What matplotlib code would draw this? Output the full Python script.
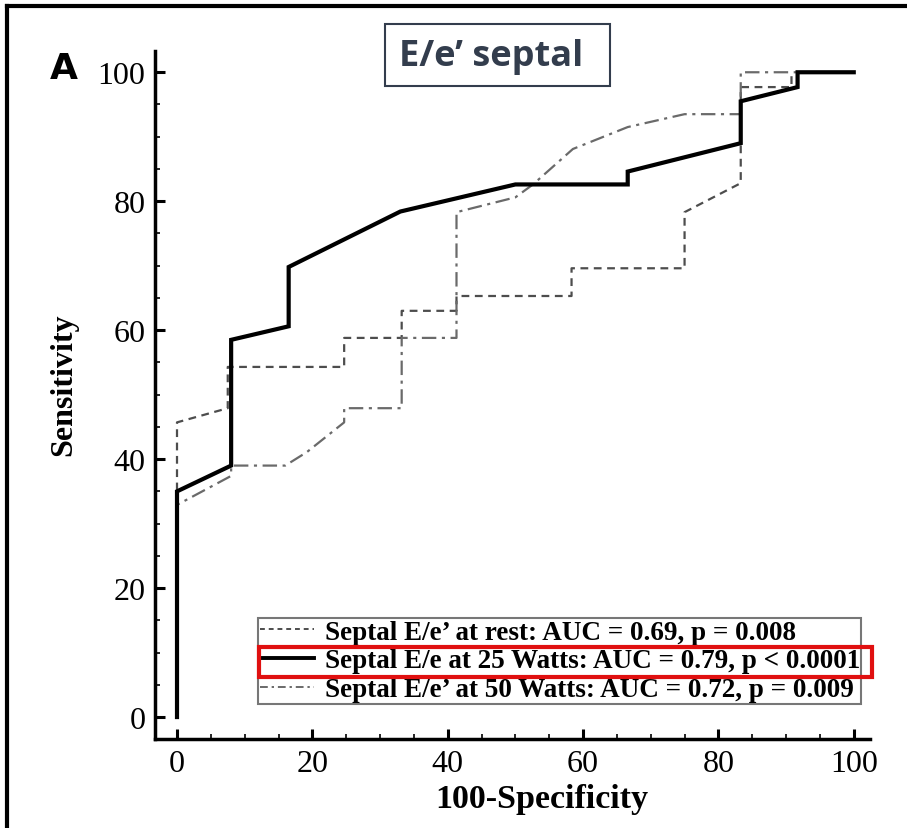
import matplotlib
matplotlib.use("Agg")
import matplotlib.pyplot as plt
from matplotlib.lines import Line2D
from matplotlib.patches import Rectangle
from matplotlib.ticker import MultipleLocator

# ---- data ----
rest_x = [0, 0, 7.5, 7.5, 24.7, 24.7, 33.2, 33.2, 41.3, 41.3, 58.3, 58.3, 75, 75, 83.3, 83.3, 90.8, 90.8]
rest_y = [0, 45.7, 47.9, 54.3, 54.3, 58.8, 58.8, 63, 63, 65.3, 65.3, 69.6, 69.6, 78.3, 82.8, 97.7, 97.7, 100]

w25_x = [0, 0, 8, 8, 16.5, 16.5, 33, 50, 66.6, 66.6, 83.3, 83.3, 91.7, 91.7, 100]
w25_y = [0, 35, 39, 58.5, 60.6, 69.8, 78.4, 82.6, 82.6, 84.6, 89, 95.5, 97.7, 100, 100]

w50_x = [0, 0, 8, 8, 16, 19.2, 24.7, 24.7, 33.2, 33.2, 41.3, 41.3, 50, 52.6, 58.5, 66.6, 75, 82.7, 83.3, 83.3, 91.7]
w50_y = [0, 32.9, 37.4, 39, 39, 41.1, 45.7, 47.9, 47.9, 58.8, 58.8, 78.3, 80.6, 82.6, 88.1, 91.5, 93.5, 93.5, 93.5, 100, 100]

labels = ["Septal E/e\u2019 at rest: AUC = 0.69, p = 0.008",
          "Septal E/e at 25 Watts: AUC = 0.79, p < 0.0001",
          "Septal E/e\u2019 at 50 Watts: AUC = 0.72, p = 0.009"]
x_ticks = [0, 20, 40, 60, 80, 100]
y_ticks = [0, 20, 40, 60, 80, 100]

serif = ["Liberation Serif", "DejaVu Serif"]

fig = plt.figure(figsize=(9.07, 8.29), dpi=100)
ax = fig.add_axes([0.1709, 0.1074, 0.7883, 0.8299])

ls_dash = (0, (3.5, 2.5))
ls_dashdot = (0, (6.5, 2.5, 1.4, 2.5))

ax.plot(rest_x, rest_y, color="#4d4d4d", lw=1.6, linestyle=ls_dash)
ax.plot(w50_x, w50_y, color="#6a6a6a", lw=1.6, linestyle=ls_dashdot)
ax.plot(w25_x, w25_y, color="black", lw=3.0, solid_joinstyle="miter")

ax.set_xlim(-3.25, 102.4)
ax.set_ylim(-3.4, 103.3)
ax.set_xticks(x_ticks)
ax.set_yticks(y_ticks)
ax.xaxis.set_minor_locator(MultipleLocator(5))
ax.yaxis.set_minor_locator(MultipleLocator(5))
for s in ["top", "right"]:
    ax.spines[s].set_visible(False)
for s in ["left", "bottom"]:
    ax.spines[s].set_linewidth(2.5)
ax.tick_params(which="major", direction="in", length=7, width=2.2, pad=7)
ax.tick_params(which="minor", direction="in", length=3.5, width=1.2)
for lab in ax.get_xticklabels() + ax.get_yticklabels():
    lab.set_fontfamily(serif)
    lab.set_fontsize(23)

ax.set_xlabel("100-Specificity", fontfamily=serif, fontweight="bold", fontsize=24.5, labelpad=4)
ax.xaxis.label.set_x(0.541)
ax.set_ylabel("Sensitivity", fontfamily=serif, fontweight="bold", fontsize=23)
ax.yaxis.set_label_coords(-0.1077, 0.516)

handles = [Line2D([], [], color="#4d4d4d", lw=1.4, linestyle=(0, (2.5, 2))),
           Line2D([], [], color="black", lw=2.8),
           Line2D([], [], color="#6a6a6a", lw=1.4, linestyle=(0, (4, 2, 1.2, 2)))]
leg = ax.legend(handles, labels, loc="lower left", bbox_to_anchor=(0.144, 0.051),
                borderaxespad=0, frameon=True, fancybox=False, handlelength=2.0,
                handletextpad=0.4, labelspacing=0.14, borderpad=0.06,
                prop={"family": serif, "weight": "bold", "size": 19.5})
leg.get_frame().set_edgecolor("#555555")
leg.get_frame().set_linewidth(1.5)

# red highlight around second legend row
fig.add_artist(Rectangle((0.2856, 0.1821), 0.676, 0.0362, transform=fig.transFigure,
                         fill=False, edgecolor="#e01010", lw=3))

# title box
fig.add_artist(Rectangle((0.4245, 0.8951), 0.248, 0.0747, transform=fig.transFigure,
                         fill=False, edgecolor="#333d4d", lw=1.5))
fig.text(0.5413, 0.9312, "E/e\u2019 septal", ha="center", va="center",
         fontsize=26, fontweight="bold", family=["Open Sans", "DejaVu Sans"], color="#333d4d")

# panel letter
fig.text(0.055, 0.917, "A", ha="left", va="center", fontsize=26, fontweight="bold",
         family=["DejaVu Sans"], color="black")

# outer frame (top and left edges)
fig.add_artist(Line2D([0.0075, 0.0075], [0, 0.9915], transform=fig.transFigure, color="black", lw=3))
fig.add_artist(Line2D([0.0075, 1.0], [0.9915, 0.9915], transform=fig.transFigure, color="black", lw=3))

fig.savefig("out.png", dpi=100)
